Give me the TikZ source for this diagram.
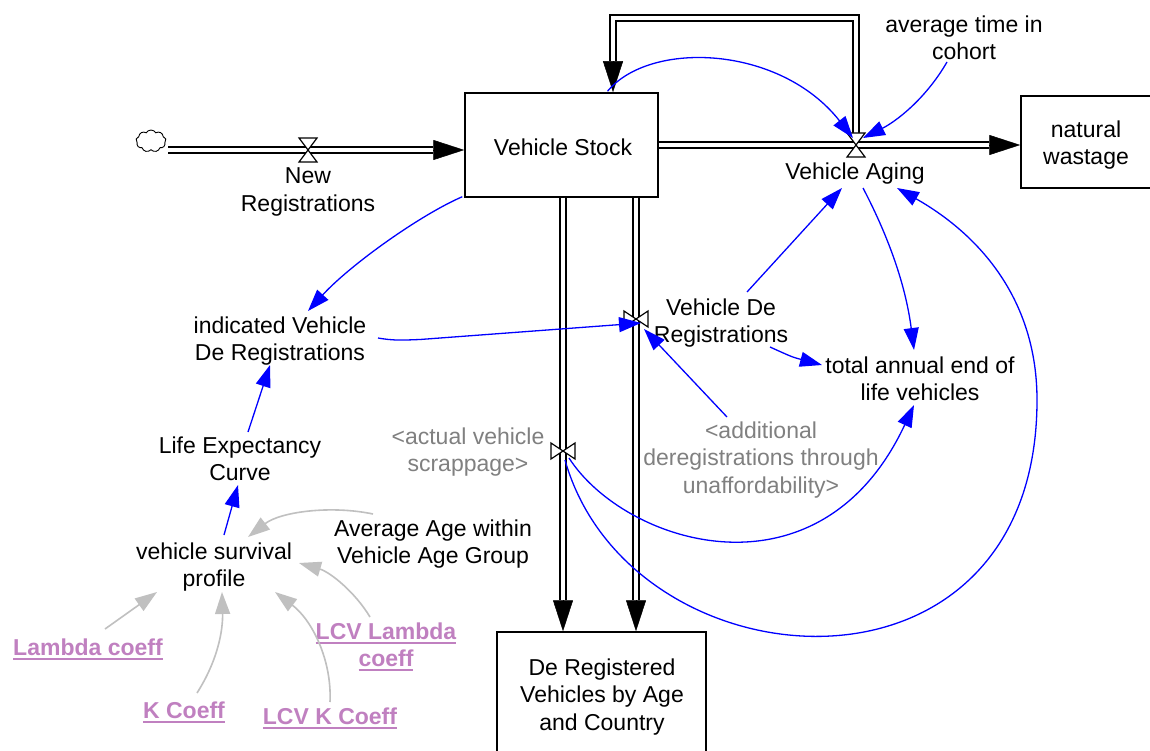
\documentclass[tikz,border=0pt]{standalone}
\usepackage{fontspec}
\setmainfont{Liberation Sans}
\usetikzlibrary{arrows.meta,calc,shapes.symbols}

\definecolor{linkblue}{RGB}{0,0,255}
\definecolor{shadowgray}{RGB}{128,128,128}
\definecolor{lightlink}{RGB}{192,192,192}
\definecolor{lookup}{RGB}{192,128,192}

% underlined name of a variable defined elsewhere
\newcommand\lk[1]{\setbox0=\hbox{#1}\rlap{\rule[-4.5pt]{\wd0}{2pt}}\box0}

\tikzset{
  every node/.style={font=\fontsize{23}{27.5}\selectfont, inner sep=0pt, align=center},
  stockbox/.style={draw=black, line width=1.5pt, rectangle},
  pipe/.style={draw=black, double=white, line width=1.4pt, double distance=4.5pt},
  fhead/.style={draw=black, line width=0.5pt, -{Triangle[length=31pt,width=20pt]}},
  link/.style={draw=linkblue, line width=1.3pt, -{Triangle[length=22pt,width=15pt]}, color=linkblue},
  glink/.style={draw=lightlink, line width=1.6pt, -{Triangle[length=22pt,width=15pt]}, color=lightlink},
  shadow/.style={text=shadowgray},
  ext/.style={text=lookup, font=\fontsize{23}{27.5}\selectfont\bfseries},
  hvalve/.pic={
    \draw[fill=white, line width=1.2pt] (-9,-12) -- (9,-12) -- (0,0) -- cycle;
    \draw[fill=white, line width=1.2pt] (-9,12) -- (9,12) -- (0,0) -- cycle;
  },
  vvalve/.pic={
    \draw[fill=white, line width=1.2pt] (-12,-8) -- (-12,8) -- (0,0) -- cycle;
    \draw[fill=white, line width=1.2pt] (12,-8) -- (12,8) -- (0,0) -- cycle;
  },
}

\begin{document}
\begin{tikzpicture}[x=1pt, y=-1pt]
\useasboundingbox (0,0) rectangle (1150,751);
\fill[white] (0,0) rectangle (1150,751);

% stocks
\node[stockbox, minimum width=193pt, minimum height=104pt] (stock) at (561.5,145) {};
\node (stocktext) at (563,147) {Vehicle Stock};
\node[stockbox, minimum width=150pt, minimum height=92pt] (nw) at (1096,142) {};
\node (nwtext) at (1086,145) {natural\\wastage};
\node[stockbox, minimum width=209pt, minimum height=130pt] (dr) at (601.5,697) {};
\node (drtext) at (602,697) {De Registered\\Vehicles by Age\\and Country};

% source cloud
\node[cloud, draw, line width=0.9pt, cloud puffs=9, cloud puff arc=120,
      minimum width=30pt, minimum height=22pt] (src) at (151,141) {};

% valve positions
\coordinate (nrv) at (308,150);
\coordinate (vav) at (856,145);
\coordinate (vdrv) at (636,319);
\coordinate (avsv) at (563,451);
\coordinate (lpTL) at (613,18);

% flow pipes
\draw[pipe] ($(src.east |- nrv)+(2,0)$) -- ($(stock.west |- nrv)+(-31,0)$);
\draw[fhead] ($(stock.west |- nrv)+(-31,0)$) -- (stock.west |- nrv);

\draw[pipe] (stock.east |- vav) -- ($(nw.west |- vav)+(-31,0)$);
\draw[fhead] ($(nw.west |- vav)+(-31,0)$) -- (nw.west |- vav);

\draw[pipe] ($(vav)+(0,-10)$) -- (vav |- lpTL) -- (lpTL) -- ($(lpTL |- stock.north)+(0,-31)$);
\draw[fhead] ($(lpTL |- stock.north)+(0,-31)$) -- (lpTL |- stock.north);

\draw[pipe] (stock.south -| avsv) -- ($(dr.north -| avsv)+(0,-31)$);
\draw[fhead] ($(dr.north -| avsv)+(0,-31)$) -- (dr.north -| avsv);

\draw[pipe] (stock.south -| vdrv) -- ($(dr.north -| vdrv)+(0,-31)$);
\draw[fhead] ($(dr.north -| vdrv)+(0,-31)$) -- (dr.north -| vdrv);

% valves
\pic at (nrv) {hvalve};
\pic at (vav) {hvalve};
\pic at (vdrv) {vvalve};
\pic at (avsv) {vvalve};

% variables
\node (nrlabel) at (308,192) {New\\Registrations};
\node (valabel) at (855,174) {Vehicle Aging};
\node (atc) at (964,38) {average time in\\cohort};
\node (vdrlabel) at (721,323) {Vehicle De\\Registrations};
\node (ivdr) at (280,341) {indicated Vehicle\\De Registrations};
\node (lec) at (240,459) {Life Expectancy\\Curve};
\node[shadow] (avs) at (468,452) {<actual vehicle\\scrappage>};
\node[shadow] (adu) at (761,460) {<additional\\deregistrations through\\unaffordability>};
\node (tael) at (920,379) {total annual end of\\life vehicles};
\node (vsp) at (214,567) {vehicle survival\\profile};
\node (aaa) at (433,544) {Average Age within\\Vehicle Age Group};
\node[ext] (lam) at (88,649) {\lk{Lambda coeff}};
\node[ext] (kc) at (184,712) {\lk{K Coeff}};
\node[ext] (lcvl) at (386,647) {\lk{LCV Lambda}\\\lk{coeff}};
\node[ext] (lcvk) at (330,718) {\lk{LCV K Coeff}};

% causal links
\draw[link] ($(stock.north)+(46,-1)$) .. controls (650,40) and (780,45) .. ($(vav)+(-3,-7)$);
\draw[link] ($(atc)+(-17,24)$) .. controls (925,100) and (895,122) .. ($(vav)+(7,-7)$);
\draw[link] ($(stock.south west)+(-2,-1)$) .. controls (420,215) and (350,265) .. ($(ivdr)+(28,-30)$);
\draw[link] ($(ivdr)+(98,-3)$) .. controls (395,341) and (405,340) .. (420,339.5) -- ($(vdrv)+(5,4)$);
\draw[link] ($(adu)+(-34,-43)$) -- ($(vdrv)+(8,10)$);
\draw[link] ($(vdrlabel)+(26,-31)$) -- ($(valabel)+(-13,14)$);
\draw[link] ($(vdrlabel)+(49,24)$) .. controls (792,357) .. ($(tael)+(-98,-14)$);
\draw[link] ($(valabel)+(8,14)$) .. controls (885,230) and (905,280) .. ($(tael)+(-6,-29)$);
\draw[link] ($(avsv)+(6,7)$) .. controls (625,545) and (820,606) .. ($(tael)+(-6,26)$);
\draw[link] ($(avsv)+(2,9)$) .. controls (630,690) and (1037,720) .. (1037,400)
  .. controls (1037,300) and (980,235) .. ($(valabel)+(42,14)$);
\draw[link] ($(lec)+(8,-27)$) -- ($(ivdr)+(-10,24)$);
\draw[link] ($(vsp)+(10,-32)$) -- ($(lec)+(-2,26)$);

% links from inputs of the survival profile
\draw[glink] ($(aaa)+(-60,-30)$) .. controls (330,505) and (280,512) .. ($(vsp)+(34,-30)$);
\draw[glink] ($(lam)+(17,-20)$) -- ($(vsp)+(-57,25)$);
\draw[glink] ($(kc)+(13,-19)$) .. controls (218,660) and (223,630) .. ($(vsp)+(8,25)$);
\draw[glink] ($(lcvl)+(-16,-30)$) .. controls (355,592) and (330,572) .. ($(vsp)+(85,-4)$);
\draw[glink] ($(lcvk)+(0,-16)$) .. controls (332,660) and (312,620) .. ($(vsp)+(61,25)$);
\end{tikzpicture}
\end{document}
